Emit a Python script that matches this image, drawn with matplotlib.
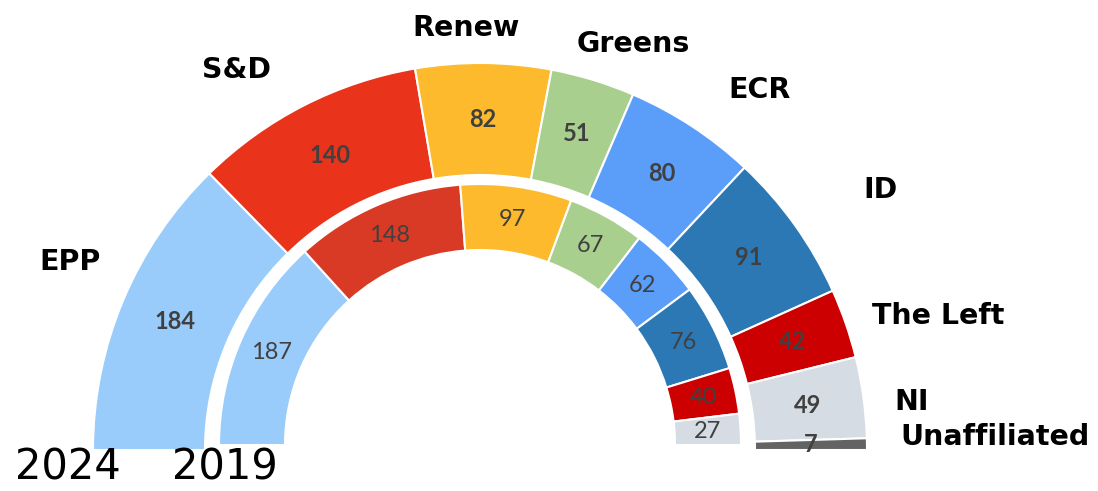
import matplotlib
matplotlib.use("Agg")
import matplotlib.pyplot as plt
from matplotlib.patches import Wedge
import numpy as np

groups_2024 = ["EPP", "S&D", "Renew", "Greens", "ECR", "ID", "The Left", "NI", "Unaffiliated"]
seats_2024 = [184, 140, 82, 51, 80, 91, 42, 49, 7]
groups_2019 = ["EPP", "S&D", "Renew", "Greens", "ECR", "ID", "The Left", "NI"]
seats_2019 = [187, 148, 97, 67, 62, 76, 40, 27]
years = ["2024", "2019"]

colors_2024 = ["#99CCFA", "#E9331B", "#FDBA2C", "#A9CF8F", "#5B9EF9", "#2C78B5", "#CC0000", "#D6DCE4", "#636363"]
colors_2019 = ["#99CCFA", "#D93A26", "#FDBA2C", "#A9CF8F", "#5B9EF9", "#2C78B5", "#CC0000", "#D6DCE4"]

W, H = 1098, 491
fig = plt.figure(figsize=(W / 100, H / 100), dpi=100)
ax = fig.add_axes([0, 0, 1, 1])
ax.set_xlim(0, W)
ax.set_ylim(0, H)
ax.set_aspect("equal")
ax.axis("off")

def py(y):
    return H - y

def ring(cx, cy, r_out, r_in, seats, colors, bold):
    total = sum(seats)
    start = 180.0
    for s, c in zip(seats, colors):
        span = 180.0 * s / total
        t2 = start
        t1 = start - span
        ax.add_patch(Wedge((cx, cy), r_out, t1, t2, width=r_out - r_in,
                           facecolor=c, edgecolor="white", linewidth=1.5))
        mid = np.deg2rad((t1 + t2) / 2)
        rm = (r_out + r_in) / 2
        ax.text(cx + rm * np.cos(mid), cy + rm * np.sin(mid), str(s),
                ha="center", va="center", fontsize=17, color="#404040",
                family="Lato", fontweight="bold" if bold else "normal")
        start = t1

ring(480, py(450), 387, 275, seats_2024, colors_2024, True)
ring(480, py(445), 261, 195, seats_2019, colors_2019, False)

label_pos = {
    "EPP": (70, 262), "S&D": (237, 70), "Renew": (466, 28), "Greens": (633, 44),
    "ECR": (760, 90), "ID": (880, 190), "The Left": (938, 316), "NI": (912, 402),
    "Unaffiliated": (995, 437),
}
for g in groups_2024:
    x, y = label_pos[g]
    ax.text(x, py(y), g, ha="center", va="center", fontsize=20.5,
            fontweight="bold", family="DejaVu Sans", color="black")

ax.text(68, py(468), years[0], ha="center", va="center", fontsize=30, family="DejaVu Sans", color="black")
ax.text(225, py(468), years[1], ha="center", va="center", fontsize=30, family="DejaVu Sans", color="black")

fig.savefig("out.png", dpi=100)
